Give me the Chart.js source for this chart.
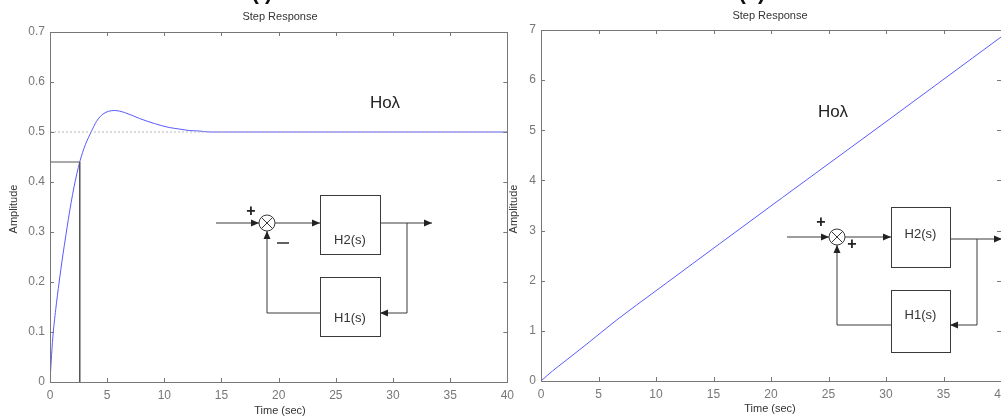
<!DOCTYPE html>
<html>
<head>
<meta charset="utf-8">
<script src="https://cdn.jsdelivr.net/npm/chart.js@4.4.1/dist/chart.umd.min.js"></script>
<style>
html, body { margin: 0; padding: 0; background: #fff; overflow: hidden; width: 1001px; height: 418px; }
canvas { position: absolute; top: 0; }
#left-chart { left: 0; }
#right-chart { left: 500px; }
</style>
</head>
<body>
<canvas id="left-chart" width="520" height="418"></canvas>
<canvas id="right-chart" width="540" height="418"></canvas>
<script>
// Tick labels
const timeTicks = [0, 5, 10, 15, 20, 25, 30, 35, 40];
const ampTicksLeft = [0, 0.1, 0.2, 0.3, 0.4, 0.5, 0.6, 0.7];
const ampTicksRight = [0, 1, 2, 3, 4, 5, 6, 7];

// (i) negative feedback step response
const timeLeft = [0, 0.1, 0.25, 0.5, 0.8, 1.1, 1.4, 1.6, 2.1, 2.6, 3.1, 3.6, 4.06, 4.64, 5.65, 6.52, 7.83, 9.13, 10.43, 11.3, 12.17, 13.04, 14, 15, 20, 25, 30, 35, 40];
const respLeft = [0, 0.04, 0.09, 0.145, 0.2, 0.25, 0.295, 0.325, 0.39, 0.44, 0.475, 0.5, 0.521, 0.536, 0.543, 0.539, 0.527, 0.517, 0.509, 0.506, 0.503, 0.502, 0.5, 0.5, 0.5, 0.5, 0.5, 0.5, 0.5];

// rise time marker and final value line
const riseTime = [0, 2.6, 2.6];
const riseAmp = [0.44, 0.44, 0];
const finalTime = [0, 40];
const finalAmp = [0.5, 0.5];

// (ii) positive feedback step response
const timeRight = [0, 1, 2, 4, 6.6, 10, 21, 30, 40];
const respRight = [0, 0.2, 0.38, 0.74, 1.22, 1.8, 3.66, 5.17, 6.86];

const FONT = '"Liberation Sans", Arial, Helvetica, sans-serif';
const toPoints = (xs, ys) => xs.map((x, i) => ({ x: x, y: ys[i] }));

// arrow head, tip at (x, y), pointing in direction (dx, dy)
function arrow(ctx, x, y, dx, dy) {
    const len = 8, half = 3.5;
    const px = -dy, py = dx;
    ctx.beginPath();
    ctx.moveTo(x, y);
    ctx.lineTo(x - dx * len + px * half, y - dy * len + py * half);
    ctx.lineTo(x - dx * len - px * half, y - dy * len - py * half);
    ctx.closePath();
    ctx.fill();
}

function line(ctx, pts) {
    ctx.beginPath();
    ctx.moveTo(pts[0][0], pts[0][1]);
    for (let i = 1; i < pts.length; i++) ctx.lineTo(pts[i][0], pts[i][1]);
    ctx.stroke();
}

// feedback block diagram
function drawDiagram(ctx, d) {
    ctx.save();
    ctx.strokeStyle = '#3a3a3a';
    ctx.fillStyle = '#222';
    ctx.lineWidth = 1;
    const cx = d.cx, cy = d.cy, r = 8;
    // input
    line(ctx, [[d.inX, d.inY], [cx - r, d.inY]]);
    arrow(ctx, cx - r, d.inY, 1, 0);
    // summing junction
    ctx.beginPath();
    ctx.arc(cx, cy, r, 0, Math.PI * 2);
    ctx.stroke();
    const k = r * 0.7;
    line(ctx, [[cx - k, cy - k], [cx + k, cy + k]]);
    line(ctx, [[cx - k, cy + k], [cx + k, cy - k]]);
    // to H2
    line(ctx, [[cx + r, d.inY], [d.bx, d.inY]]);
    arrow(ctx, d.bx, d.inY, 1, 0);
    ctx.strokeRect(d.bx + 0.5, d.h2y + 0.5, d.bw, d.bh);
    ctx.strokeRect(d.bx + 0.5, d.h1y + 0.5, d.bw, d.h1h);
    // output
    line(ctx, [[d.bx + d.bw, d.outY], [d.outX, d.outY]]);
    arrow(ctx, d.outX, d.outY, 1, 0);
    // feedback path
    line(ctx, [[d.brX, d.outY], [d.brX, d.fbY], [d.bx + d.bw, d.fbY]]);
    arrow(ctx, d.bx + d.bw, d.fbY, -1, 0);
    line(ctx, [[d.bx, d.fbY], [cx, d.fbY], [cx, cy + r]]);
    arrow(ctx, cx, cy + r, 0, -1);
    // signs
    ctx.font = 'bold 16px ' + FONT;
    ctx.textAlign = 'center';
    ctx.textBaseline = 'middle';
    ctx.fillText('+', d.plus1[0], d.plus1[1]);
    if (d.minus) {
        ctx.lineWidth = 1.6;
        line(ctx, [[d.minus[0] - 6, d.minus[1]], [d.minus[0] + 6, d.minus[1]]]);
        ctx.lineWidth = 1;
    } else {
        ctx.fillText('+', d.plus2[0], d.plus2[1]);
    }
    // block labels
    ctx.font = '13px ' + FONT;
    ctx.fillStyle = '#333';
    ctx.fillText('H2(s)', d.bx + d.bw / 2, d.h2t);
    ctx.fillText('H1(s)', d.bx + d.bw / 2, d.h1t);
    ctx.restore();
}

function decorPlugin(cfg) {
    return {
        id: 'decor',
        afterDatasetsDraw(chart) {
            const ctx = chart.ctx;
            const a = chart.chartArea;
            const xs = chart.scales.x, ys = chart.scales.y;
            ctx.save();
            // box and inner tick marks
            ctx.strokeStyle = '#777';
            ctx.lineWidth = 1;
            ctx.strokeRect(Math.round(a.left) + 0.5, Math.round(a.top) + 0.5, Math.round(a.right - a.left), Math.round(a.bottom - a.top));
            ctx.beginPath();
            xs.ticks.forEach(t => {
                const px = Math.round(xs.getPixelForValue(t.value)) + 0.5;
                ctx.moveTo(px, a.bottom); ctx.lineTo(px, a.bottom - 4);
                ctx.moveTo(px, a.top); ctx.lineTo(px, a.top + 4);
            });
            ys.ticks.forEach(t => {
                const py = Math.round(ys.getPixelForValue(t.value)) + 0.5;
                ctx.moveTo(a.left, py); ctx.lineTo(a.left + 4, py);
                ctx.moveTo(a.right, py); ctx.lineTo(a.right - 4, py);
            });
            ctx.stroke();

            // texts
            ctx.fillStyle = '#333';
            ctx.textAlign = 'center';
            ctx.textBaseline = 'middle';
            ctx.font = '11px ' + FONT;
            ctx.fillText('Step Response', cfg.titleX, cfg.titleY);
            ctx.fillText('Time (sec)', cfg.titleX - 10 + cfg.xlabDx, cfg.xlabY);
            ctx.save();
            ctx.translate(cfg.ylabX, cfg.ylabY);
            ctx.rotate(-Math.PI / 2);
            ctx.fillText('Amplitude', 0, 0);
            ctx.restore();

            ctx.font = 'bold 22px ' + FONT;
            ctx.textBaseline = 'alphabetic';
            ctx.fillStyle = '#111';
            ctx.fillText(cfg.tag, cfg.titleX - 18, -1);

            ctx.font = '17px ' + FONT;
            ctx.textBaseline = 'middle';
            ctx.fillStyle = '#222';
            ctx.fillText('Hoλ', cfg.holX, cfg.holY);
            ctx.restore();

            drawDiagram(ctx, cfg.diagram);
        }
    };
}

function makeChart(id, datasets, yTicks, yMax, geo, cfg) {
    const ctx = document.getElementById(id).getContext('2d');
    return new Chart(ctx, {
        type: 'line',
        data: { datasets: datasets },
        options: {
            responsive: false,
            animation: false,
            layout: { padding: { top: geo.top, right: geo.right, left: 0, bottom: 0 } },
            plugins: { legend: { display: false }, tooltip: { enabled: false } },
            elements: { point: { radius: 0 } },
            scales: {
                x: {
                    type: 'linear', min: 0, max: 40,
                    afterBuildTicks: s => { s.ticks = timeTicks.map(v => ({ value: v })); },
                    afterFit: s => { s.height = geo.xh; },
                    grid: { display: false, drawTicks: false },
                    border: { display: false },
                    ticks: { color: '#777', font: { family: FONT, size: 12 }, padding: 6, maxRotation: 0, autoSkip: false }
                },
                y: {
                    type: 'linear', min: 0, max: yMax,
                    afterBuildTicks: s => { s.ticks = yTicks.map(v => ({ value: v })); },
                    afterFit: s => { s.width = geo.yw; },
                    grid: { display: false, drawTicks: false },
                    border: { display: false },
                    ticks: { color: '#777', font: { family: FONT, size: 12 }, padding: 5, autoSkip: false }
                }
            }
        },
        plugins: [decorPlugin(cfg)]
    });
}

makeChart('left-chart', [
    { data: toPoints(finalTime, finalAmp), borderColor: '#b8b8b8', borderWidth: 1, borderDash: [2, 2] },
    { data: toPoints(riseTime, riseAmp), borderColor: '#555', borderWidth: 1 },
    { data: toPoints(timeLeft, respLeft), borderColor: '#5a5aff', borderWidth: 1, cubicInterpolationMode: 'monotone' }
], ampTicksLeft, 0.7, { top: 32, right: 10, xh: 36, yw: 50 }, {
    tag: '(i)', titleX: 280, titleY: 17, xlabDx: 10, xlabY: 411, ylabX: 14, ylabY: 209,
    holX: 385, holY: 103,
    diagram: { inX: 216, inY: 223, cx: 267, cy: 223, bx: 320, bw: 60, bh: 59, h2y: 195, h1y: 277, h1h: 59,
        outX: 432, outY: 223, brX: 407, fbY: 313, h2t: 240, h1t: 318,
        plus1: [251, 212], minus: [283, 243] }
});

makeChart('right-chart', [
    { data: toPoints(timeRight, respRight), borderColor: '#5a5aff', borderWidth: 1, cubicInterpolationMode: 'monotone' }
], ampTicksRight, 7, { top: 30, right: 39, xh: 37, yw: 41 }, {
    tag: '(ii)', titleX: 270, titleY: 16, xlabDx: 10, xlabY: 409, ylabX: 14, ylabY: 209,
    holX: 333, holY: 112,
    diagram: { inX: 287, inY: 237, cx: 337, cy: 237, bx: 391, bw: 59, bh: 60, h2y: 207, h1y: 290, h1h: 62,
        outX: 502, outY: 239, brX: 477, fbY: 325, h2t: 234, h1t: 315,
        plus1: [321, 223], plus2: [352, 245] }
});
</script>
</body>
</html>
